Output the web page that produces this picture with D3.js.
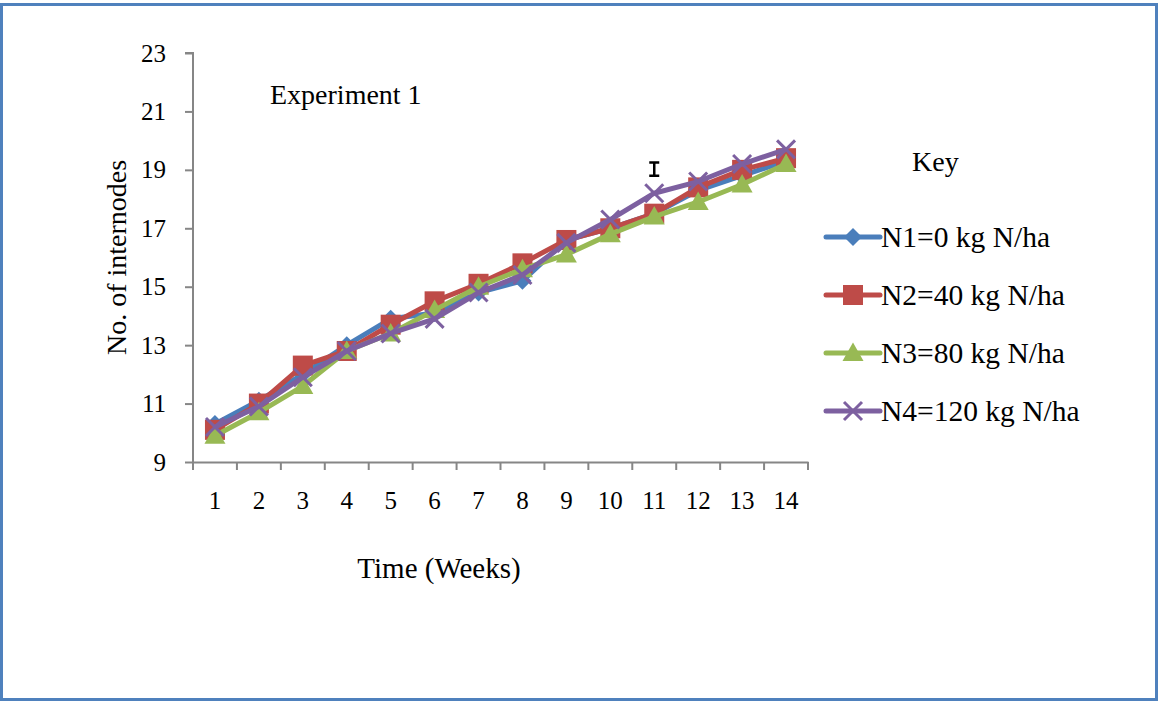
<!DOCTYPE html>
<html>
<head>
<meta charset="utf-8">
<script src="https://cdn.jsdelivr.net/npm/d3@7"></script>
<style>
  body { margin: 0; background: #fff; }
  text { font-family: "Liberation Serif", "Times New Roman", serif; fill: #000; }
</style>
</head>
<body>
<svg width="1160" height="704"></svg>
<script>
let svg = d3.select("svg");
const width = 1160;
const height = 704;
let margin = {top: 53, bottom: 242, right: 352, left: 193};

// data
const weeks = [1, 2, 3, 4, 5, 6, 7, 8, 9, 10, 11, 12, 13, 14];
const yTicks = [9, 11, 13, 15, 17, 19, 21, 23];
const seriesNames = ["N1=0 kg N/ha", "N2=40 kg N/ha", "N3=80 kg N/ha", "N4=120 kg N/ha"];
const n1 = [10.3, 11.1, 12.0, 13.0, 13.9, 14.1, 14.8, 15.2, 16.6, 17.0, 17.5, 18.3, 18.8, 19.3];
const n2 = [10.1, 11.0, 12.3, 12.8, 13.7, 14.5, 15.1, 15.8, 16.6, 17.0, 17.5, 18.4, 19.0, 19.4];
const n3 = [9.9, 10.7, 11.6, 12.8, 13.4, 14.2, 15.0, 15.6, 16.1, 16.8, 17.4, 17.9, 18.5, 19.2];
const n4 = [10.2, 10.9, 11.9, 12.8, 13.4, 13.9, 14.8, 15.4, 16.5, 17.3, 18.2, 18.6, 19.2, 19.7];
const lsdWeek = 11;
const lsdRange = [18.8, 19.25];

const colors = ["#4a7ebb", "#be4b48", "#98b954", "#7d60a0"];
const shapes = ["diamond", "square", "triangle", "cross"];
const series = [n1, n2, n3, n4].map((vals, i) => ({name: seriesNames[i], values: vals, color: colors[i], shape: shapes[i]}));

// frame
svg.append("rect")
  .attr("x", 1.5).attr("y", 4.5)
  .attr("width", 1155).attr("height", 695)
  .attr("fill", "none")
  .attr("stroke", "#4f81bd")
  .attr("stroke-width", 3);

// scales
let xScale = d3.scaleBand().domain(weeks).range([margin.left, width - margin.right]);
let yScale = d3.scaleLinear().domain([9, 23]).range([height - margin.bottom, margin.top]);
const xc = (d) => xScale(d) + xScale.bandwidth() / 2;

// axes
let yAxis = d3.axisLeft(yScale).tickValues(yTicks).tickSize(8).tickPadding(19);
let xAxis = d3.axisBottom(xScale).tickSize(0).tickPadding(29);

let gy = svg.append("g")
  .attr("transform", `translate(${margin.left}, 0)`)
  .call(yAxis);
let gx = svg.append("g")
  .attr("transform", `translate(0, ${height - margin.bottom})`)
  .call(xAxis);

[gx, gy].forEach(g => {
  g.select(".domain").attr("stroke", "#868686").attr("stroke-width", 2);
  g.selectAll(".tick line").attr("stroke", "#868686").attr("stroke-width", 2);
  g.selectAll(".tick text").style("font-family", "Liberation Serif").style("font-size", "25px").attr("fill", "#000");
});
gy.select(".domain").attr("d", `M${-8},${yScale(23)}H0V${yScale(9)}`);

// x ticks at band edges
let edges = weeks.map(w => xScale(w)).concat([width - margin.right]);
gx.selectAll(".edge")
  .data(edges)
  .enter().append("line")
  .attr("x1", d => d).attr("x2", d => d)
  .attr("y1", 0).attr("y2", 8)
  .attr("stroke", "#868686").attr("stroke-width", 2);

// titles
svg.append("text")
  .attr("transform", `translate(126, ${(yScale(9) + yScale(23)) / 2}) rotate(-90)`)
  .attr("text-anchor", "middle")
  .style("font-size", "28px")
  .text("No. of internodes");
svg.append("text")
  .attr("x", 439).attr("y", 578)
  .attr("text-anchor", "middle")
  .style("font-size", "29px")
  .text("Time (Weeks)");
svg.append("text")
  .attr("x", 270).attr("y", 104)
  .style("font-size", "28px")
  .text("Experiment 1");

// marker symbol
function marker(sel, shape, color, s) {
  if (shape === "diamond") {
    sel.append("path").attr("d", `M0,${-s}L${s},0L0,${s}L${-s},0Z`).attr("fill", color);
  } else if (shape === "square") {
    sel.append("rect").attr("x", -s).attr("y", -s).attr("width", 2 * s).attr("height", 2 * s).attr("fill", color);
  } else if (shape === "triangle") {
    sel.append("path").attr("d", `M0,${-s * 1.05}L${s * 1.05},${s * 0.8}L${-s * 1.05},${s * 0.8}Z`).attr("fill", color);
  } else {
    sel.append("path").attr("d", `M${-s},${-s}L${s},${s}M${-s},${s}L${s},${-s}`)
      .attr("stroke", color).attr("stroke-width", 3).attr("fill", "none");
  }
}
const markerSize = {diamond: 9, square: 10, triangle: 10, cross: 9};

// lines
let line = d3.line()
  .x((d, i) => xc(weeks[i]))
  .y(d => yScale(d));

series.forEach(s => {
  let g = svg.append("g");
  g.append("path")
    .datum(s.values)
    .attr("d", line)
    .attr("fill", "none")
    .attr("stroke", s.color)
    .attr("stroke-width", 5)
    .attr("stroke-linejoin", "round");
  s.values.forEach((v, i) => {
    let m = g.append("g").attr("transform", `translate(${xc(weeks[i])}, ${yScale(v)})`);
    marker(m, s.shape, s.color, markerSize[s.shape]);
  });
});

// LSD bar
let lx = xc(lsdWeek);
svg.append("path")
  .attr("d", `M${lx - 5},${yScale(lsdRange[1])}H${lx + 5}M${lx},${yScale(lsdRange[1])}V${yScale(lsdRange[0])}M${lx - 5},${yScale(lsdRange[0])}H${lx + 5}`)
  .attr("stroke", "#000").attr("stroke-width", 2.5).attr("fill", "none");

// legend
svg.append("text")
  .attr("x", 912).attr("y", 171)
  .style("font-size", "28px")
  .text("Key");

let legend = svg.selectAll(".legend")
  .data(series)
  .enter().append("g")
  .attr("transform", (d, i) => `translate(826, ${237 + i * 58})`);
legend.append("line")
  .attr("x1", 0).attr("x2", 54)
  .attr("stroke", d => d.color)
  .attr("stroke-width", 5)
  .attr("stroke-linecap", "round");
legend.each(function(d) {
  let m = d3.select(this).append("g").attr("transform", "translate(27, 0)");
  marker(m, d.shape, d.color, markerSize[d.shape]);
});
legend.append("text")
  .attr("x", 55).attr("y", 10)
  .style("font-size", "29.5px")
  .text(d => d.name);
</script>
</body>
</html>
